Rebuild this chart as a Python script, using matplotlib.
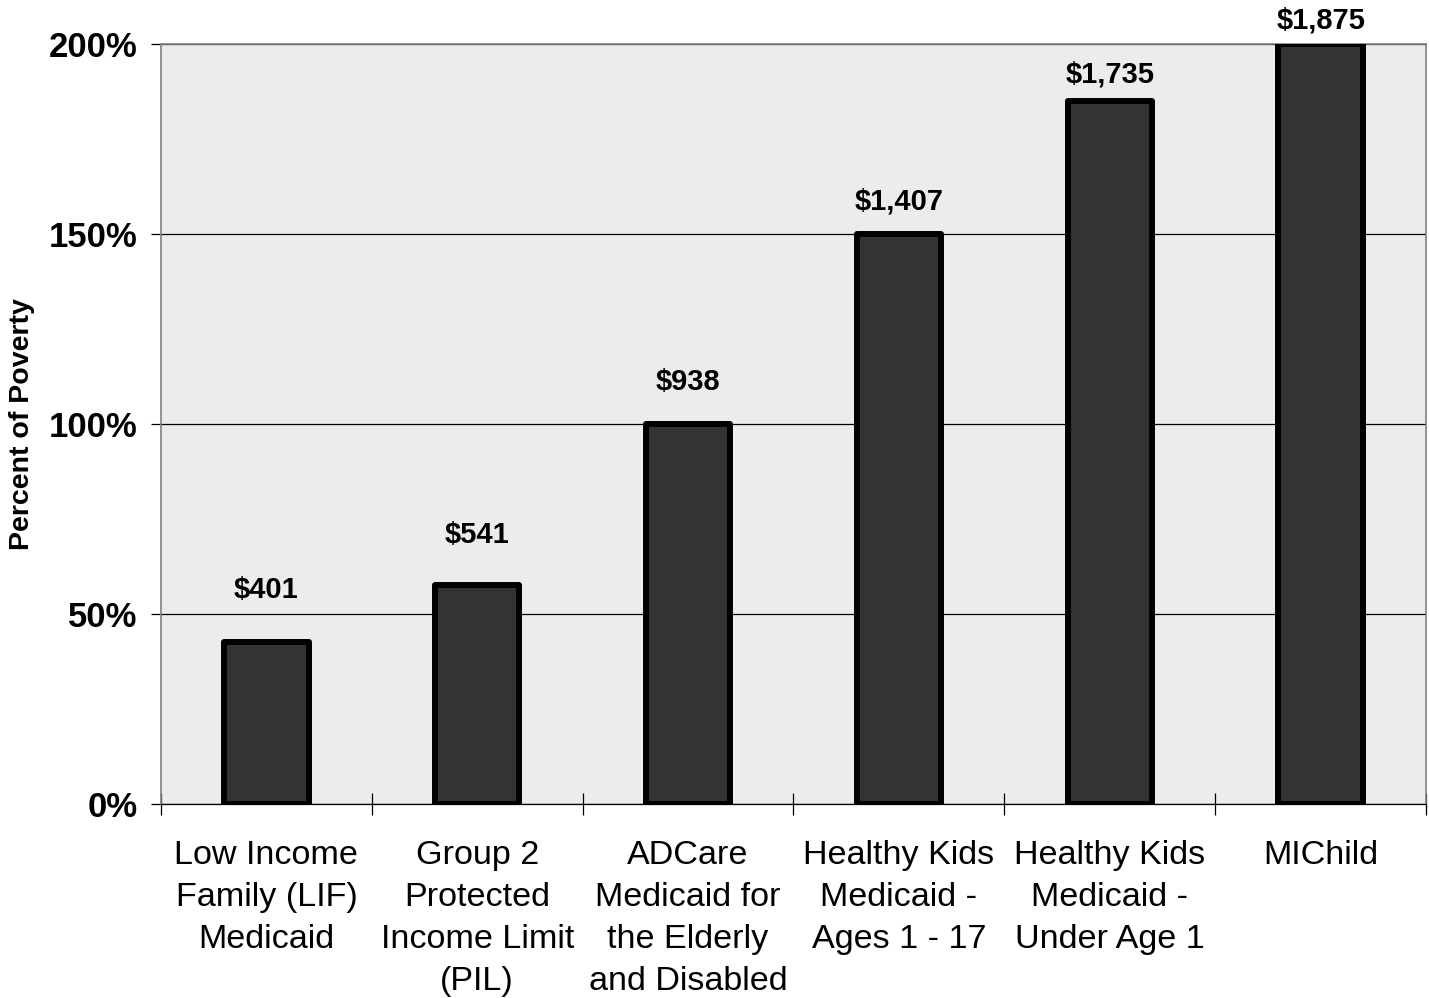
import matplotlib
matplotlib.use("Agg")
import matplotlib.pyplot as plt
import numpy as np

plt.rcParams['font.family'] = ['Liberation Sans', 'DejaVu Sans']

categories = ["Low Income\nFamily (LIF)\nMedicaid",
              "Group 2\nProtected\nIncome Limit\n(PIL)",
              "ADCare\nMedicaid for\nthe Elderly\nand Disabled",
              "Healthy Kids\nMedicaid -\nAges 1 - 17",
              "Healthy Kids\nMedicaid -\nUnder Age 1",
              "MIChild"]
percent_of_poverty = [42.7, 57.7, 100, 150, 185, 200]
dollar_labels = ["$401", "$541", "$938", "$1,407", "$1,735", "$1,875"]
yticks = [0, 50, 100, 150, 200]
ytick_labels = ["0%", "50%", "100%", "150%", "200%"]

W, H = 1429, 998
fig = plt.figure(figsize=(W / 100, H / 100), dpi=100)
fig.patch.set_facecolor('white')
ax = fig.add_axes([161 / W, 1 - 804 / H, (1426 - 161) / W, (804 - 44) / H])
ax.set_facecolor('#ececec')

x = np.arange(len(categories))
bars = ax.bar(x, percent_of_poverty, width=0.4, color='#333333',
              edgecolor='black', linewidth=4.3, zorder=3)
for b in bars:
    b.set_joinstyle('round')

# label placement (Excel-like): slightly compressed above each bar
for xi, v, lab in zip(x, percent_of_poverty, dollar_labels):
    ax.text(xi, v * 0.953 + 15.7, lab, ha='center', va='center',
            fontsize=21, fontweight='bold', clip_on=False, zorder=5)

ax.set_xlim(-0.5, len(categories) - 0.5)
ax.set_ylim(0, 200)
ax.set_yticks(yticks)
ax.set_yticklabels(ytick_labels, fontsize=25, fontweight='bold')
ax.yaxis.grid(True, color='black', linewidth=0.9)
ax.set_axisbelow(True)
ax.tick_params(axis='y', direction='out', length=7, width=0.9, pad=10)

ax.set_xticks(x)
ax.set_xticklabels(categories, fontsize=24.6, linespacing=1.45, va='top')
ax.tick_params(axis='x', which='major', length=0, pad=26)
ax.set_xticks(np.arange(-0.5, len(categories)), minor=True)
ax.tick_params(axis='x', which='minor', direction='inout', length=16, width=0.9)

ax.set_ylabel("Percent of Poverty", fontsize=20.5, fontweight='bold')
ax.yaxis.set_label_coords((35 - 161) / (1426 - 161), 0.5)

for s in ['top', 'right', 'left']:
    ax.spines[s].set_color('#808080')
    ax.spines[s].set_linewidth(1.2)
ax.spines['bottom'].set_color('black')
ax.spines['bottom'].set_linewidth(0.9)

fig.savefig("out.png", dpi=100)
